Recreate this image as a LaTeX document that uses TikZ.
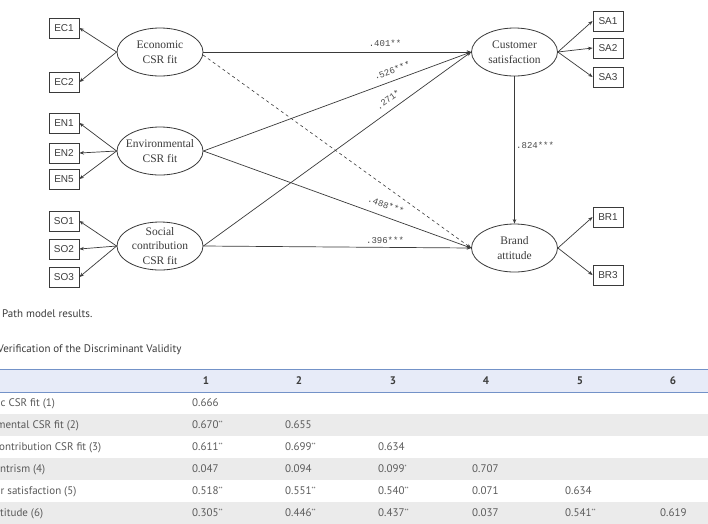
\documentclass[tikz,border=0pt]{standalone}
\usepackage{fontspec}
\setmainfont{Liberation Serif}
\newfontfamily\boxfont{Liberation Sans}
\newfontfamily\labfont{Liberation Mono}
\newfontfamily\tabfont{PT Sans}
\usetikzlibrary{shapes.geometric,arrows.meta}
\definecolor{ln}{HTML}{3A3A3A}
\definecolor{txt}{HTML}{3C3C3C}
\definecolor{lab}{HTML}{4A4A4A}
\definecolor{tabtxt}{HTML}{5A5A5A}
\definecolor{hdrfill}{HTML}{E7EBF8}
\definecolor{hdrline}{HTML}{7392C8}
\definecolor{rowgray}{HTML}{EBEBEB}
\newcommand{\sig}[1]{{\fontsize{6}{6}\selectfont\raisebox{3.5pt}{#1}}}
\begin{document}
\begin{tikzpicture}[x=1pt,y=-1pt,
  latent/.style={ellipse, draw=ln, line width=0.8pt, minimum width=86pt, minimum height=48pt, inner sep=0pt},
  ltext/.style={align=center, font=\fontsize{11.5}{14.5}\selectfont, text=txt, inner sep=0pt},
  ind/.style={rectangle, draw=ln, line width=0.8pt, minimum width=30pt, minimum height=20pt, inner sep=0pt, font=\boxfont\fontsize{10}{12}\selectfont, text=txt},
  arr/.style={draw=ln, line width=0.7pt, -{Stealth[length=4.5pt,width=3.5pt]}},
  plab/.style={font=\labfont\fontsize{9}{10}\selectfont, text=lab, inner sep=0pt},
  tcap/.style={font=\tabfont\fontsize{11}{13}\selectfont, text=txt, inner sep=0pt, anchor=west},
  tval/.style={font=\tabfont\fontsize{11}{12}\selectfont, text=tabtxt, inner sep=0pt, text height=7.8pt, text depth=0pt, anchor=west},
  thead/.style={font=\tabfont\bfseries\fontsize{11}{12}\selectfont, text=txt, inner sep=0pt, text height=7.8pt, text depth=0pt}
]
\useasboundingbox (0,0) rectangle (708,523);
\fill[white] (0,0) rectangle (708,523);

% latent variables
\node[latent, label={[ltext]center:Economic\\CSR fit}] (eco) at (160,52) {};
\node[latent, label={[ltext]center:Environmental\\CSR fit}] (env) at (160,151) {};
\node[latent, label={[ltext]center:Social\\contribution\\CSR fit}] (soc) at (160,246) {};
\node[latent, label={[ltext]center:Customer\\satisfaction}] (cs) at (514.5,52) {};
\node[latent, label={[ltext]center:Brand\\attitude}] (ba) at (514.5,248) {};

% indicators
\node[ind] (ec1) at (64,28) {EC1};
\node[ind] (ec2) at (64,82) {EC2};
\node[ind] (en1) at (64,123) {EN1};
\node[ind] (en2) at (64,153) {EN2};
\node[ind] (en5) at (64,179) {EN5};
\node[ind] (so1) at (64,221) {SO1};
\node[ind] (so2) at (64,249) {SO2};
\node[ind] (so3) at (64,277) {SO3};
\node[ind] (sa1) at (608,21) {SA1};
\node[ind] (sa2) at (608,48) {SA2};
\node[ind] (sa3) at (608,77) {SA3};
\node[ind] (br1) at (608,217) {BR1};
\node[ind] (br3) at (608,275) {BR3};

% measurement arrows
\draw[arr] (eco.west) -- (ec1.east);
\draw[arr] (eco.west) -- (ec2.east);
\draw[arr] (env.west) -- (en1.east);
\draw[arr] (env.west) -- (en2.east);
\draw[arr] (env.west) -- (en5.east);
\draw[arr] (soc.west) -- (so1.east);
\draw[arr] (soc.west) -- (so2.east);
\draw[arr] (soc.west) -- (so3.east);
\draw[arr] (cs.east) -- (sa1.west);
\draw[arr] (cs.east) -- (sa2.west);
\draw[arr] (cs.east) -- (sa3.west);
\draw[arr] (ba.east) -- (br1.west);
\draw[arr] (ba.east) -- (br3.west);

% structural paths
\draw[arr] (eco.east) -- (cs.west);
\draw[arr] (env.east) -- (cs.west);
\draw[arr] (soc.east) -- (cs.west);
\draw[arr] (env.east) -- (ba.west);
\draw[arr] (soc.east) -- (ba.west);
\draw[arr, dashed, line width=0.6pt] (eco.-4) -- (ba.west);
\draw[arr] (cs.south) -- (ba.north);

% path labels
\node[plab] (l401) at (385,43) {.401**};
\node[plab, rotate=20] (l526) at (392,70.5) {.526***};
\node[plab, rotate=36] (l271) at (388,99.5) {.271*};
\node[plab, rotate=-20] (l488) at (386,205) {.488***};
\node[plab] (l396) at (385,240) {.396***};
\node[plab, anchor=west] (l824) at (516,145) {.824***};

% captions
\node[tcap] (cap1) at (2,314) {Path model results.};
\node[tcap] (cap2) at (-2.5,350) {Verification of the Discriminant Validity};

% table backgrounds
\fill[hdrfill] (0,369) rectangle (708,392);
\draw[hdrline, line width=0.9pt] (0,369) -- (708,369);
\draw[hdrline, line width=0.9pt] (0,392) -- (708,392);
\fill[rowgray] (0,414) rectangle (708,436);
\fill[rowgray] (0,458) rectangle (708,480);
\fill[rowgray] (0,502) rectangle (708,524);

% header
\node[thead] (h1) at (206,381) {1};
\node[thead] (h2) at (299,381) {2};
\node[thead] (h3) at (393,381) {3};
\node[thead] (h4) at (486,381) {4};
\node[thead] (h5) at (580,381) {5};
\node[thead] (h6) at (673,381) {6};

% row labels
\node[tval] (r1) at (0.5,403) {c CSR fit (1)};
\node[tval] (r2) at (-3.5,425) {mental CSR fit (2)};
\node[tval] (r3) at (-1,447) {ontribution CSR fit (3)};
\node[tval] (r4) at (0,469) {ntrism (4)};
\node[tval] (r5) at (0.5,491) {r satisfaction (5)};
\node[tval] (r6) at (0,513) {titude (6)};

% values
\node[tval] (v11) at (192,403) {0.666};
\node[tval] (v21) at (192,425) {0.670\sig{**}};
\node[tval] (v22) at (285,425) {0.655};
\node[tval] (v31) at (192,447) {0.611\sig{**}};
\node[tval] (v32) at (285,447) {0.699\sig{**}};
\node[tval] (v33) at (378,447) {0.634};
\node[tval] (v41) at (192,469) {0.047};
\node[tval] (v42) at (285,469) {0.094};
\node[tval] (v43) at (378,469) {0.099\sig{*}};
\node[tval] (v44) at (472,469) {0.707};
\node[tval] (v51) at (192,491) {0.518\sig{**}};
\node[tval] (v52) at (285,491) {0.551\sig{**}};
\node[tval] (v53) at (378,491) {0.540\sig{**}};
\node[tval] (v54) at (472,491) {0.071};
\node[tval] (v55) at (565,491) {0.634};
\node[tval] (v61) at (192,513) {0.305\sig{**}};
\node[tval] (v62) at (285,513) {0.446\sig{**}};
\node[tval] (v63) at (378,513) {0.437\sig{**}};
\node[tval] (v64) at (472,513) {0.037};
\node[tval] (v65) at (565,513) {0.541\sig{**}};
\node[tval] (v66) at (660,513) {0.619};
\end{tikzpicture}
\end{document}
